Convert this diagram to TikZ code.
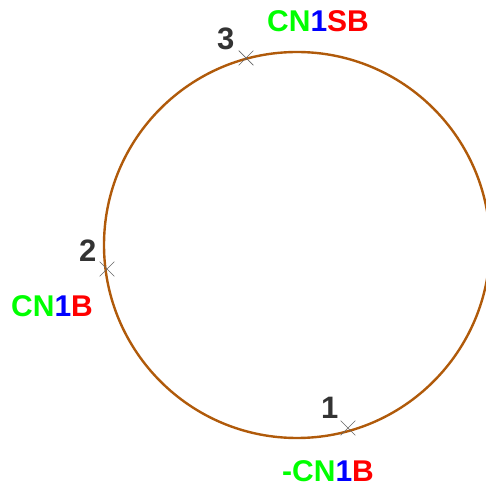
\documentclass[tikz,border=0pt]{standalone}
\usepackage{fontspec}
\setmainfont{Liberation Sans}
\usepackage{xcolor}
\usetikzlibrary{shapes.misc}
\definecolor{wirebrown}{RGB}{176,90,10}
\definecolor{pingreen}{RGB}{0,255,0}
\definecolor{pinblue}{RGB}{0,0,255}
\definecolor{pinred}{RGB}{255,0,0}
\definecolor{numgrey}{RGB}{51,51,51}

\begin{document}
\begin{tikzpicture}[x=1pt, y=1pt,
    ring/.style={draw=wirebrown, line width=2.4pt},
    xmark/.style={draw=black!60, cross out, line width=0.7pt, minimum size=14pt, inner sep=0pt},
    pinnum/.style={anchor=base west, inner sep=0pt, text=numgrey, font=\fontsize{31}{31}\selectfont\bfseries},
    pinname/.style={anchor=base west, inner sep=0pt, font=\fontsize{30}{30}\selectfont\bfseries}]
    \useasboundingbox (0,0) rectangle (486,493);
    \clip (0,0) rectangle (486,493);
    % ring
    \coordinate (c) at (297,248);
    \draw[ring] (c) circle (193);
    % points on the ring
    \coordinate (p1) at (348,65);
    \coordinate (p2) at (107,224);
    \coordinate (p3) at (246,435);
    \node[xmark] (m1) at (p1) {};
    \node[xmark] (m2) at (p2) {};
    \node[xmark] (m3) at (p3) {};
    % numbers and names
    \node[pinnum] (n1) at (321,74) {1};
    \node[pinnum] (n2) at (79,231) {2};
    \node[pinnum] (n3) at (217,443) {3};
    \node[pinname] (l1) at (282,11) {\textcolor{pingreen}{-CN}\textcolor{pinblue}{1}\textcolor{pinred}{B}};
    \node[pinname] (l2) at (11,176) {\textcolor{pingreen}{CN}\textcolor{pinblue}{1}\textcolor{pinred}{B}};
    \node[pinname] (l3) at (267,461) {\textcolor{pingreen}{CN}\textcolor{pinblue}{1}\textcolor{pinred}{SB}};
\end{tikzpicture}
\end{document}
